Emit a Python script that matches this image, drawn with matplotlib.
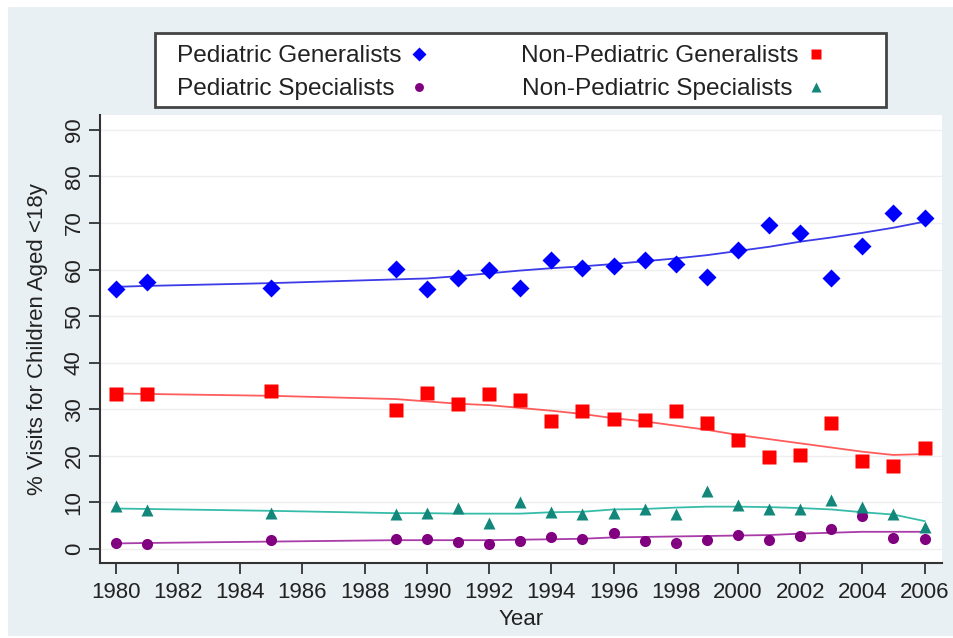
import matplotlib
matplotlib.use("Agg")
import matplotlib.pyplot as plt
from matplotlib.patches import Rectangle

plt.rcParams['font.family'] = ['Liberation Sans', 'DejaVu Sans']

# survey years
years = [1980, 1981, 1985, 1989, 1990, 1991, 1992, 1993, 1994, 1995, 1996,
         1997, 1998, 1999, 2000, 2001, 2002, 2003, 2004, 2005, 2006]

# % visits
ped_gen = [55.8, 57.4, 56.1, 60.1, 55.9, 58.3, 60.0, 56.0, 62.0, 60.4, 60.7,
           62.0, 61.2, 58.4, 64.2, 69.6, 67.8, 58.2, 65.0, 72.1, 71.0]
nonped_gen = [33.3, 33.3, 34.0, 29.9, 33.5, 31.2, 33.3, 31.9, 27.4, 29.6, 27.9,
              27.7, 29.7, 27.1, 23.4, 19.7, 20.2, 27.0, 18.9, 17.9, 21.8]
ped_spec = [1.4, 1.0, 1.9, 2.1, 2.2, 1.5, 1.0, 1.7, 2.6, 2.2, 3.4,
            1.7, 1.2, 1.9, 3.0, 1.9, 2.9, 4.2, 7.0, 2.3, 2.2]
nonped_spec = [9.3, 8.3, 7.8, 7.5, 7.8, 8.9, 5.5, 10.2, 8.0, 7.5, 7.7,
               8.7, 7.5, 12.5, 9.4, 8.7, 8.7, 10.5, 9.0, 7.5, 4.8]

# smoothed trend lines
fit_pg = [56.3, 56.5, 57.1, 57.9, 58.1, 58.6, 59.2, 59.8, 60.3, 60.7, 61.2,
          61.8, 62.4, 63.1, 64.0, 64.9, 66.0, 66.9, 67.9, 69.0, 70.3]
fit_npg = [33.4, 33.3, 32.9, 32.2, 31.7, 31.2, 30.9, 30.3, 29.7, 29.0, 28.1,
           27.4, 26.5, 25.6, 24.5, 23.6, 22.7, 21.8, 20.9, 20.2, 20.4]
fit_ps = [1.2, 1.3, 1.6, 1.9, 1.9, 1.9, 1.9, 2.0, 2.1, 2.2, 2.5,
          2.6, 2.7, 2.8, 2.9, 3.0, 3.3, 3.5, 3.7, 3.7, 3.7]
fit_nps = [8.7, 8.6, 8.2, 7.7, 7.7, 7.6, 7.6, 7.6, 7.9, 8.0, 8.5,
           8.6, 8.9, 9.1, 9.1, 9.0, 8.8, 8.5, 7.9, 7.4, 6.0]

# trailing space so that both labels of a column have the same width
labels = ['Pediatric Generalists', 'Pediatric Specialists ',
          'Non-Pediatric Generalists', 'Non-Pediatric Specialists ']

bg = '#e9f0f3'

fig = plt.figure(figsize=(9.54, 6.38), dpi=100)
fig.patch.set_facecolor('white')
fig.add_artist(Rectangle((8 / 954, 1 - 636 / 638), 1 - 8 / 954, 629 / 638,
                         transform=fig.transFigure, facecolor=bg,
                         edgecolor='none', zorder=0))

ax = fig.add_axes([100 / 954, 1 - 563 / 638, 842 / 954, 448 / 638])
ax.set_facecolor('white')

# trend lines
ax.plot(years, fit_pg, color='#3b3be8', lw=1.3, zorder=2)
ax.plot(years, fit_npg, color='#ff5c5c', lw=1.3, zorder=2)
ax.plot(years, fit_ps, color='#a83ca8', lw=1.3, zorder=2)
ax.plot(years, fit_nps, color='#38bcaa', lw=1.3, zorder=2)

# points
h1, = ax.plot(years, ped_gen, 'D', color='#0000ff', ms=9, mec='none', zorder=3)
h2, = ax.plot(years, ped_spec, 'o', color='#800080', ms=8, mec='none', zorder=3)
h3, = ax.plot(years, nonped_gen, 's', color='#ff0000', ms=9.5, mec='none', zorder=3)
h4, = ax.plot(years, nonped_spec, '^', color='#12877a', ms=9, mec='none', zorder=3)

ax.set_xlim(1979.49, 2006.56)
ax.set_ylim(-3.0, 93.2)
ax.set_xticks(range(1980, 2007, 2))
ax.set_yticks(range(0, 91, 10))
ax.tick_params(axis='both', labelsize=16, length=8, width=1.3, color='#333333',
               labelcolor='#222222')
ax.tick_params(axis='x', pad=6)
ax.tick_params(axis='y', labelrotation=90, pad=3)
for t in ax.get_yticklabels():
    t.set_va('center')
ax.yaxis.grid(True, color='#efefef', lw=1)
ax.set_axisbelow(True)

for s in ['top', 'right']:
    ax.spines[s].set_visible(False)
for s in ['left', 'bottom']:
    ax.spines[s].set_color('#333333')
    ax.spines[s].set_linewidth(1.5)

ax.set_xlabel('Year', fontsize=16, labelpad=4, color='#222222')
ax.set_ylabel('% Visits for Children Aged <18y', fontsize=16, labelpad=11,
              color='#222222')

# legend box
fig.add_artist(Rectangle((155 / 954, 1 - 107 / 638), 731 / 954, 74 / 638,
                         transform=fig.transFigure, facecolor='white',
                         edgecolor='#444444', lw=2, zorder=1))
leg = fig.legend([h1, h2, h3, h4], labels, loc='upper left',
                 bbox_to_anchor=(177 / 954, 1 - 45 / 638), ncol=2,
                 markerfirst=False, frameon=False, fontsize=17.6,
                 handlelength=1.0, handletextpad=0.2, columnspacing=3.7,
                 labelspacing=0.45, borderpad=0, borderaxespad=0,
                 markerscale=0.8, labelcolor='#222222')

fig.savefig('out.png', dpi=100, facecolor=fig.get_facecolor())
